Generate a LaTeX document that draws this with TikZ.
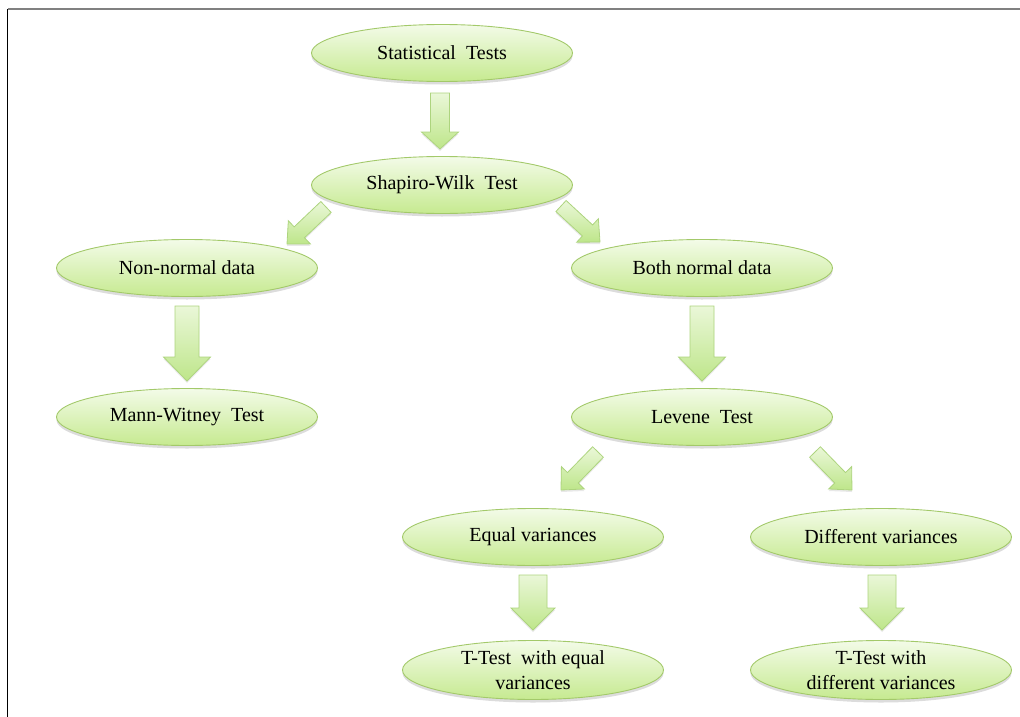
\documentclass[tikz,border=0pt]{standalone}
\usepackage{fontspec}
\setmainfont{Liberation Serif}
\usetikzlibrary{shapes.geometric,shadows,calc}
\definecolor{ellline}{HTML}{A3C96A}
\definecolor{elltop}{HTML}{F3FBE8}
\definecolor{ellbot}{HTML}{C6EA90}
\definecolor{arrline}{HTML}{ADD47E}
\definecolor{arrtop}{HTML}{EAF7D8}
\definecolor{arrbot}{HTML}{BEE68A}
\definecolor{framegray}{HTML}{808080}
% block arrow: tail, tip, shaft half width, head half width, head length
\newcommand{\blockarr}[5]{%
  \coordinate (neck) at ($(#2)!#5!(#1)$);
  \draw[blockarrow]
    ($(#1)!#3!90:(#2)$) -- ($(neck)!#3!90:(#2)$) -- ($(neck)!#4!90:(#2)$)
    -- (#2) -- ($(neck)!#4!-90:(#2)$) -- ($(neck)!#3!-90:(#2)$)
    -- ($(#1)!#3!-90:(#2)$) -- cycle;}
\begin{document}
\begin{tikzpicture}[x=1pt,y=-1pt,
  ell/.style={ellipse, draw=ellline, line width=0.9pt, top color=elltop, bottom color=ellbot,
    minimum width=261pt, minimum height=57pt, inner sep=0pt,
    font=\fontsize{20}{25}\selectfont, align=center,
    drop shadow={shadow xshift=0pt, shadow yshift=-3pt, opacity=0.25, fill=black!55}},
  lbl/.style={font=\fontsize{20}{25}\selectfont, align=center, inner sep=0pt},
  blockarrow/.style={draw=arrline, line width=0.8pt, line join=miter, top color=arrtop, bottom color=arrbot,
    drop shadow={shadow xshift=0pt, shadow yshift=-2pt, opacity=0.18, fill=black!50}}
]
\useasboundingbox (0,0) rectangle (1020,717);
% frame
\coordinate (ftl) at (7.5,9.5);
\coordinate (ftr) at (1020,9.5);
\coordinate (fbl) at (7.5,717);
\draw[framegray, line width=2pt] (ftl) -- (ftr);
\draw[black, line width=1.5pt] (ftl) -- (fbl);

% nodes
\node[ell] (st) at (442,53) {Statistical~ Tests};
\node[ell] (sw) at (442,185) {Shapiro-Wilk~ Test};
\node[ell] (nn) at (187,268) {Non-normal data};
\node[ell] (bn) at (702,268) {Both normal data};
\node[ell] (mw) at (187,417) {Mann-Witney~ Test};
\node[ell] (lv) at (702,417) {Levene~ Test};
\node[ell] (eq) at (533,537) {Equal variances};
\node[ell] (df) at (881,537) {Different variances};
\node[ell, minimum height=59pt, label={[lbl, name=tel]center:T-Test~ with equal\\variances}] (te) at (533,670) {};
\node[ell, minimum height=59pt, label={[lbl, name=tdl]center:T-Test with\\different variances}] (td) at (881,670) {};

% arrow end points
\coordinate (a1s) at ($(st)+(-2,40)$);   \coordinate (a1e) at ($(sw)+(-2,-36)$);
\coordinate (a2s) at ($(sw)+(-116,22)$); \coordinate (a2e) at ($(nn)+(100,-24)$);
\coordinate (a3s) at ($(sw)+(119,21)$);  \coordinate (a3e) at ($(bn)+(-102,-26)$);
\coordinate (a4s) at ($(lv)+(-104,35)$); \coordinate (a4e) at ($(eq)+(28,-47)$);
\coordinate (a5s) at ($(lv)+(113,35)$);  \coordinate (a5e) at ($(df)+(-29,-47)$);
\coordinate (a6s) at ($(nn)+(0,38)$);    \coordinate (a6e) at ($(mw)+(0,-36)$);
\coordinate (a7s) at ($(bn)+(0,38)$);    \coordinate (a7e) at ($(lv)+(0,-36)$);
\coordinate (a8s) at ($(eq)+(0,38)$);    \coordinate (a8e) at ($(te)+(0,-40)$);
\coordinate (a9s) at ($(df)+(1,38)$);    \coordinate (a9e) at ($(td)+(1,-40)$);

\blockarr{a1s}{a1e}{9.5pt}{18.5pt}{17pt}
\blockarr{a2s}{a2e}{7.5pt}{16pt}{17pt}
\blockarr{a3s}{a3e}{7.5pt}{16pt}{17pt}
\blockarr{a4s}{a4e}{7.5pt}{16pt}{17pt}
\blockarr{a5s}{a5e}{7.5pt}{16pt}{17pt}
\blockarr{a6s}{a6e}{12pt}{23.5pt}{24pt}
\blockarr{a7s}{a7e}{12pt}{23.5pt}{24pt}
\blockarr{a8s}{a8e}{14pt}{22pt}{22pt}
\blockarr{a9s}{a9e}{14pt}{22pt}{22pt}
\end{tikzpicture}
\end{document}
